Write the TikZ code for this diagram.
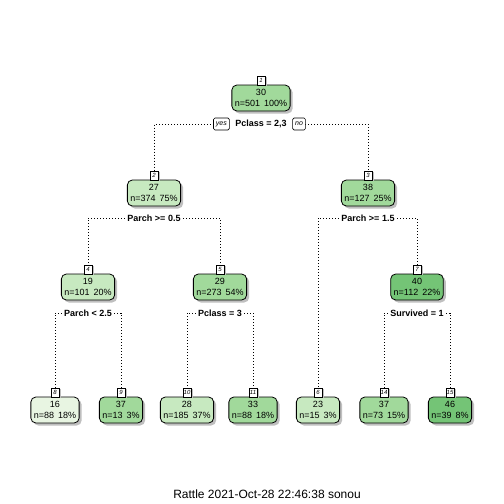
\documentclass[tikz,border=0pt]{standalone}
\usepackage{fontspec}
\setmainfont{Liberation Sans}
\usetikzlibrary{shadows,backgrounds}
\definecolor{gA}{HTML}{E8F5E2}
\definecolor{gB}{HTML}{C7E9C0}
\definecolor{gC}{HTML}{A1D99B}
\definecolor{gD}{HTML}{74C476}
\tikzset{
  nbox/.style={draw, line width=0.8pt, rounded corners=5pt, minimum height=26pt,
    inner xsep=3pt, inner ysep=0pt, outer sep=0pt, align=center,
    font=\fontsize{9}{11}\selectfont,
    drop shadow={shadow xshift=2.5pt, shadow yshift=-2.5pt, fill=black!25, opacity=1}},
  tagbox/.style={draw, line width=0.6pt, fill=white, inner sep=0.5pt, outer sep=0pt,
    minimum width=8pt, minimum height=9pt, font=\fontsize{6}{6}\selectfont\itshape,
    drop shadow={shadow xshift=2pt, shadow yshift=-1pt, fill=black!25, opacity=1}},
  splitlab/.style={fill=white, inner xsep=2.5pt, inner ysep=1pt, outer sep=0pt,
    font=\fontsize{9}{10}\selectfont\bfseries},
  yesno/.style={draw, line width=0.6pt, fill=white, rounded corners=1.5pt, inner xsep=2.5pt,
    inner ysep=1pt, minimum height=12pt, outer sep=0pt, font=\fontsize{7}{8}\selectfont\itshape},
  dotline/.style={line width=0.9pt, dash pattern=on 0.9pt off 2.1pt}
}
\newcommand\treenode[6]{%
  \node[nbox, fill=#4, anchor=north] (n#1) at (#2,#3) {#5\\#6};
  \node[tagbox, anchor=south] (t#1) at (n#1.north) {#1};
}
\begin{document}
\begin{tikzpicture}[x=1pt,y=-1pt]
\useasboundingbox (0,0) rectangle (504,504);
% nodes
\treenode{1}{261}{85}{gC}{30}{n=501\hspace{4pt}100\%}
\treenode{2}{154}{180}{gB}{27}{n=374\hspace{4pt}75\%}
\treenode{3}{368}{180}{gC}{38}{n=127\hspace{4pt}25\%}
\treenode{4}{88}{274}{gB}{19}{n=101\hspace{4pt}20\%}
\treenode{5}{220}{274}{gC}{29}{n=273\hspace{4pt}54\%}
\treenode{7}{417}{274}{gD}{40}{n=112\hspace{4pt}22\%}
\treenode{8}{55}{397}{gA}{16}{n=88\hspace{4pt}18\%}
\treenode{9}{121}{397}{gC}{37}{n=13\hspace{4pt}3\%}
\treenode{10}{187}{397}{gB}{28}{n=185\hspace{4pt}37\%}
\treenode{11}{253}{397}{gC}{33}{n=88\hspace{4pt}18\%}
\treenode{6}{318}{397}{gB}{23}{n=15\hspace{4pt}3\%}
\treenode{14}{384}{397}{gC}{37}{n=73\hspace{4pt}15\%}
\treenode{15}{450}{397}{gD}{46}{n=39\hspace{4pt}8\%}
% split labels
\node[splitlab] (s1) at (261,124) {Pclass = 2,3};
\node[yesno, anchor=east] (yes) at ([xshift=-3.5pt]s1.west) {yes};
\node[yesno, anchor=west] (no) at ([xshift=3.5pt]s1.east) {no};
\node[splitlab] (s2) at (154,218) {Parch >= 0.5};
\node[splitlab] (s3) at (368,218) {Parch >= 1.5};
\node[splitlab] (s4) at (88,313) {Parch < 2.5};
\node[splitlab] (s5) at (220,313) {Pclass = 3};
\node[splitlab] (s7) at (417,313) {Survived = 1};
% connectors
\begin{scope}[on background layer]
\draw[dotline] (yes.west) -| (t2.north);
\draw[dotline] (no.east) -| (t3.north);
\draw[dotline] (s2.west) -| (t4.north);
\draw[dotline] (s2.east) -| (t5.north);
\draw[dotline] (s3.west) -| (t6.north);
\draw[dotline] (s3.east) -| (t7.north);
\draw[dotline] (s4.west) -| (t8.north);
\draw[dotline] (s4.east) -| (t9.north);
\draw[dotline] (s5.west) -| (t10.north);
\draw[dotline] (s5.east) -| (t11.north);
\draw[dotline] (s7.west) -| (t14.north);
\draw[dotline] (s7.east) -| (t15.north);
\end{scope}
% title
\node[font=\fontsize{12}{14}\selectfont] (title) at (267,494) {Rattle 2021-Oct-28 22:46:38 sonou};
\end{tikzpicture}
\end{document}
